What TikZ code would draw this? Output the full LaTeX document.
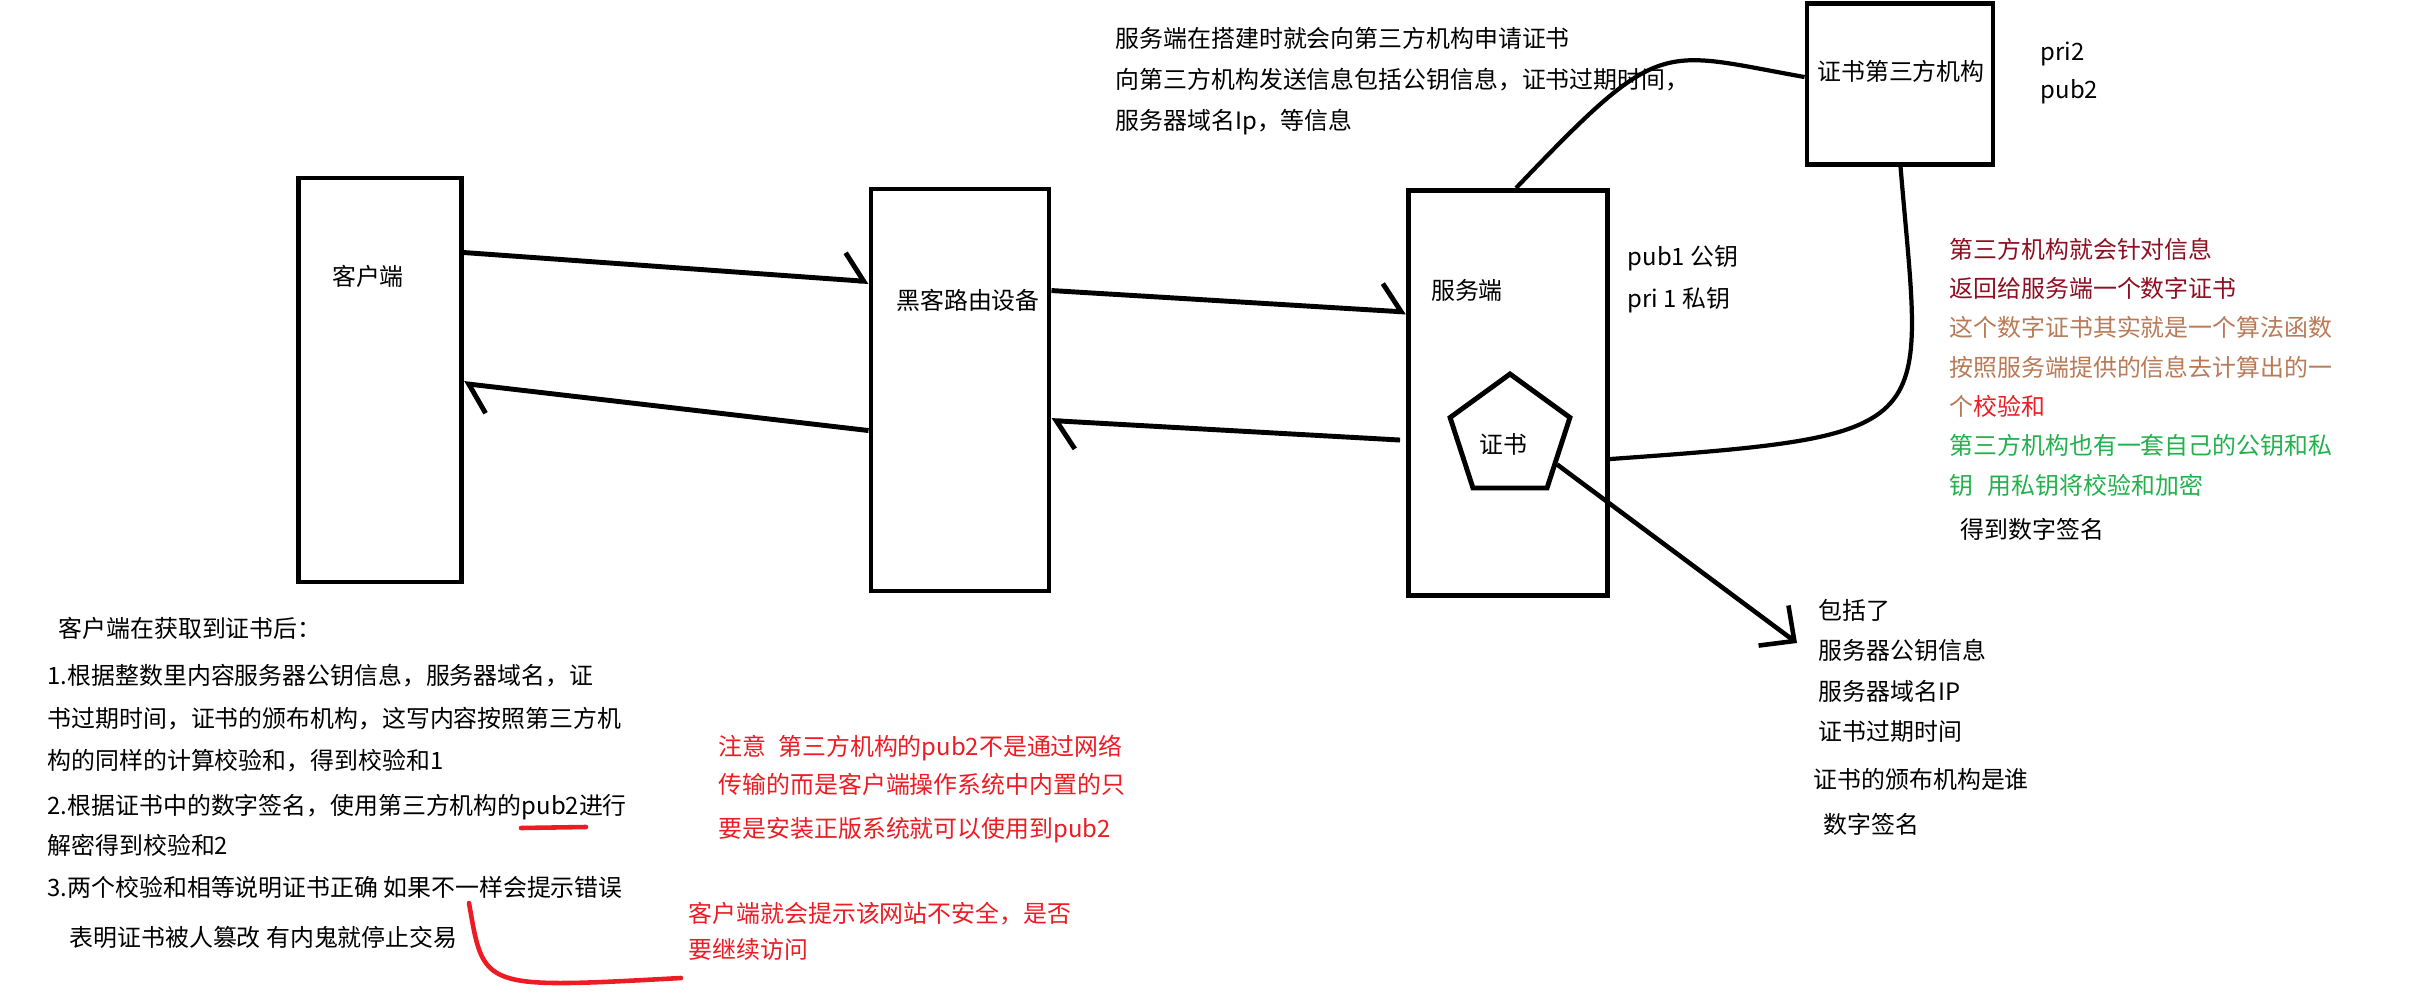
\documentclass[tikz,border=0pt]{standalone}
\usepackage{fontspec}
\setmainfont{Noto Sans CJK SC}
\usepackage{xcolor}
\usetikzlibrary{arrows.meta, shapes.geometric, calc}

\definecolor{sigdark}{HTML}{8E0F22}
\definecolor{sigbrown}{HTML}{B97A57}
\definecolor{sigred}{HTML}{ED1C24}
\definecolor{siggreen}{HTML}{22B14C}

\begin{document}
\begin{tikzpicture}[
  x = 0.1mm, y = -0.1mm,
  font = \fontsize{6.8}{11.6}\selectfont,
  box/.style = {rectangle, draw, line width=1.4pt, inner sep=0pt},
  lbl/.style = {inner sep=0pt},
  txt/.style = {inner sep=0pt, anchor=north west, align=left},
  cert/.style = {regular polygon, regular polygon sides=5, draw,
                 line width=1.4pt, minimum size=12.6mm, inner sep=0pt},
  arrow/.style = {-{Straight Barb[harpoon, length=2mm, width=5.4mm]}, line width=1.4pt},
  link/.style = {line width=1.2pt},
  redline/.style = {sigred, line width=1.3pt, line cap=round},
]
\path[use as bounding box, fill=white] (0,0) rectangle (2434,1001);

\node[box, minimum width=16.3mm, minimum height=40.4mm] (client) at (380,380) {};
\node[box, minimum width=17.8mm, minimum height=40.2mm] (router) at (960,390) {};
\node[box, minimum width=19.9mm, minimum height=40.5mm] (server) at (1508,393) {};
\node[box, minimum width=18.6mm, minimum height=16.1mm] (ca) at (1900,84) {};
\node[cert] (cert) at (1510,437) {};

\node[lbl] (clientlbl) at (368,276) {客户端};
\node[lbl] (routerlbl) at (968,300) {黑客路由设备};
\node[lbl] (serverlbl) at (1467,290) {服务端};
\node[lbl] (calbl) at (1901,71) {证书第三方机构};
\node[lbl] (certlbl) at (1503,444) {证书};

\node[txt, font=\fontsize{6.8}{11.9}\selectfont] (serverkeys) at (1627,245) {pub1 公钥\\pri 1 私钥};
\node[txt, font=\fontsize{6.8}{10.8}\selectfont] (cakeys) at (2040,41) {pri2\\pub2};

\node[txt, font=\fontsize{6.8}{11.66}\selectfont] (apply) at (1115,27)
  {服务端在搭建时就会向第三方机构申请证书\\
   向第三方机构发送信息包括公钥信息，证书过期时间，\\
   服务器域名Ip，等信息};

\node[txt, font=\fontsize{6.8}{11.2}\selectfont] (issue) at (1949,237)
  {{\color{sigdark}第三方机构就会针对信息}\\
   {\color{sigdark}返回给服务端一个数字证书}\\
   {\color{sigbrown}这个数字证书其实就是一个算法函数}\\
   {\color{sigbrown}按照服务端提供的信息去计算出的一}\\
   {\color{sigbrown}个}{\color{sigred}校验和}\\
   {\color{siggreen}第三方机构也有一套自己的公钥和私}\\
   {\color{siggreen}钥\hspace{0.6em}用私钥将校验和加密}};
\node[txt] (sign) at (1960,518) {得到数字签名};

\node[txt, font=\fontsize{6.8}{11.4}\selectfont] (incl) at (1818,599)
  {包括了\\
   服务器公钥信息\\
   服务器域名IP\\
   证书过期时间\\[0.8mm]
   \hspace*{-0.5mm}证书的颁布机构是谁\\[0.5mm]
   \hspace*{0.5mm}数字签名};

\node[txt, font=\fontsize{6.8}{11.95}\selectfont] (check) at (47,616)
  {\hspace*{1.1mm}客户端在获取到证书后：\\[0.6mm]
   1.根据整数里内容服务器公钥信息，服务器域名，证\\[0.1mm]
   书过期时间，证书的颁布机构，这写内容按照第三方机\\
   构的同样的计算校验和，得到校验和1\\[0.3mm]
   2.根据证书中的数字签名，使用第三方机构的pub2进行\\[-0.2mm]
   解密得到校验和2\\
   3.两个校验和相等说明证书正确 如果不一样会提示错误\\[0.8mm]
   \hspace*{2.2mm}表明证书被人篡改 有内鬼就停止交易};

\node[txt, text=sigred, font=\fontsize{6.8}{11.66}\selectfont] (pubnote) at (718,734)
  {注意\hspace{0.5em}第三方机构的pub2不是通过网络\\[-0.3mm]
   传输的而是客户端操作系统中内置的只\\[0.3mm]
   要是安装正版系统就可以使用到pub2};
\node[txt, text=sigred, font=\fontsize{6.8}{10.5}\selectfont] (warn) at (688,901)
  {客户端就会提示该网站不安全，是否\\要继续访问};

\draw[arrow] ($(client.north east)+(0,77)$) -- ($(router.north west)+(0,95)$);
\draw[arrow] ($(router.north west)+(0,244)$) -- ($(client.north east)+(0,208)$);
\draw[arrow] ($(router.north east)+(0,104)$) -- ($(server.north west)+(0,124)$);
\draw[arrow] ($(server.north west)+(-6,252)$) -- ($(router.north east)+(0,234)$);

\draw[link] ($(server.north west)+(110,0)$) .. controls +(146,-153) and +(-146,-26) .. ($(ca.north west)+(0,76)$);
\draw[link] ($(ca.south west)+(96,0)$) .. controls +(22,265) and +(338,-24) .. ($(server.north east)+(0,271)$);

\coordinate (incltip) at (1797,643);
\draw[-{Straight Barb[length=2.6mm, width=5mm]}, line width=1.3pt]
  ($(cert.corner 4)!0.35!(cert.corner 5)$) -- (incltip);

\coordinate (ulstart) at (521,828);
\coordinate (ulend) at (586,827);
\draw[redline] (ulstart) -- (ulend);

\coordinate (warnstart) at (469,903);
\coordinate (warnend) at (681,978);
\draw[redline] (warnstart) .. controls +(15,86) and +(-201,11) .. (warnend);
\end{tikzpicture}
\end{document}
